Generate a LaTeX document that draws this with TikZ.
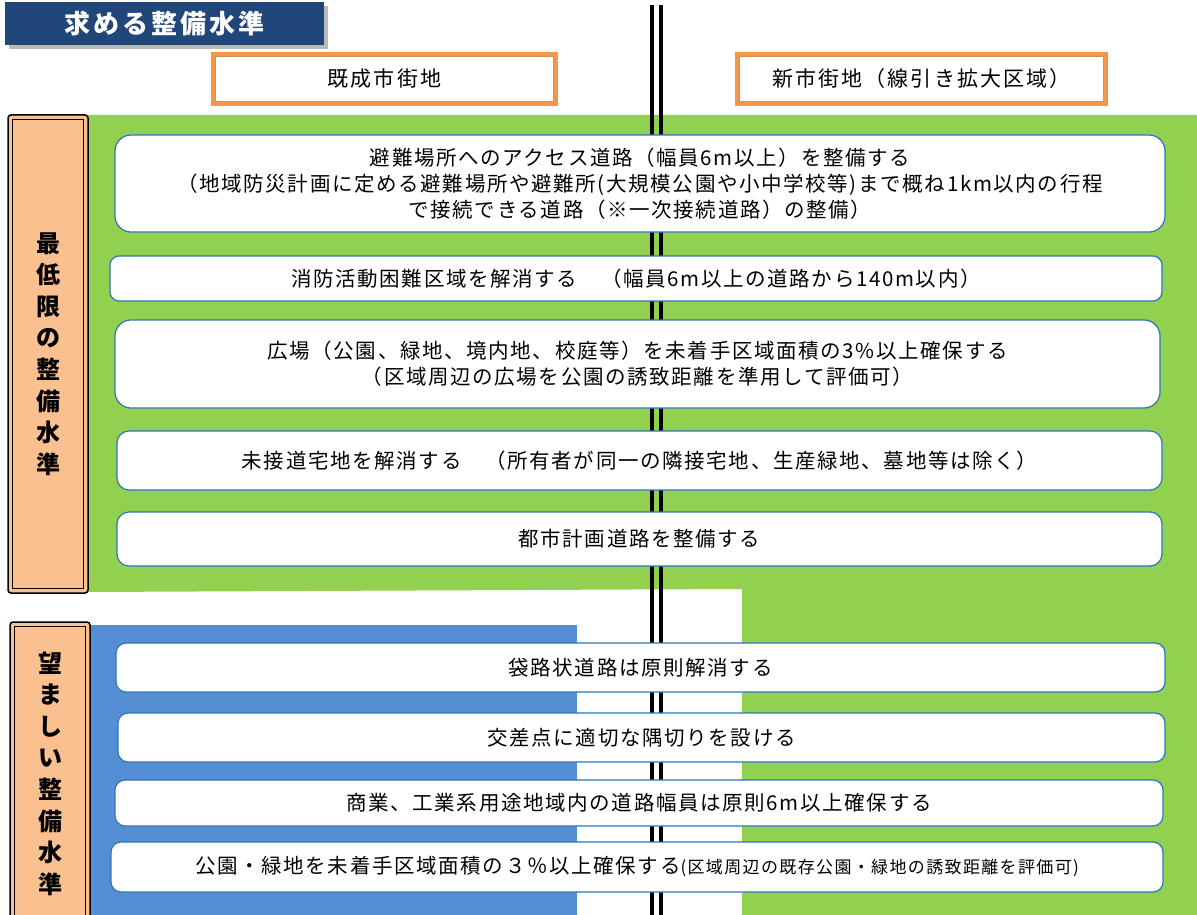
\documentclass[tikz,border=0pt]{standalone}
\usepackage{fontspec}
\setmainfont{Noto Sans CJK JP}
\definecolor{grn}{RGB}{146,208,80}
\definecolor{blu}{RGB}{85,142,213}
\definecolor{navy}{RGB}{33,71,122}
\definecolor{org}{RGB}{247,150,70}
\definecolor{peach}{RGB}{250,192,144}
\definecolor{bord}{RGB}{46,117,182}
\begin{document}
\begin{tikzpicture}[x=1pt,y=-1pt,
  wbox/.style={draw=bord,line width=1.2pt,fill=white,rounded corners=12pt,align=center,
    font=\fontsize{20.5}{26}\selectfont\addfontfeatures{LetterSpace=8},inner sep=0pt},
  hbox/.style={draw=org,line width=4.5pt,fill=white,inner sep=0pt,
    font=\fontsize{21}{24}\selectfont\addfontfeatures{LetterSpace=10}},
  lbox/.style={draw=black,line width=1.5pt,fill=peach,rounded corners=3pt,inner sep=0pt,
    align=center,font=\fontsize{24}{31.6}\selectfont\bfseries},
  tbox/.style={fill=navy,inner sep=0pt,text=white,font=\fontsize{26}{30}\selectfont\bfseries\addfontfeatures{LetterSpace=11}},
  cline/.style={line width=4pt,black}]
\useasboundingbox (0,0) rectangle (1197,915);
\fill[white] (0,0) rectangle (1197,915);
% background regions
\fill[grn] (88,115) -- (1197,115) -- (1197,915) -- (742,915) -- (742,589) -- (88,592) -- cycle;
\fill[blu] (90,625) rectangle (577,915);
% central boundary lines
\draw[cline] (652,5) -- (652,915);
\draw[cline] (661,5) -- (661,915);
% title
\fill[gray!55] (9,6) rectangle (328,49);
\node[tbox,minimum width=319pt,minimum height=43pt] (title) at (164.5,23.5) {求める整備水準};
% headers
\node[hbox,minimum width=343pt,minimum height=50pt] (h1) at (384.5,79) {既成市街地};
\node[hbox,minimum width=369pt,minimum height=50pt] (h2) at (921.5,79) {新市街地（線引き拡大区域）};
\foreach \h in {h1,h2}{
  \draw[org!70!gray,line width=1pt] ([shift={(5,5)}]\h.north west) rectangle ([shift={(-5,-5)}]\h.south east);
}
% side labels
\node[lbox,minimum width=80pt,minimum height=478pt] (l1) at (48,354) {最\\低\\限\\の\\整\\備\\水\\準};
\node[lbox,minimum width=80pt,minimum height=303pt] (l2) at (50,773.5) {望\\ま\\し\\い\\整\\備\\水\\準};
\foreach \l in {l1,l2}{
  \draw[black,line width=1.2pt] ([shift={(5,5)}]\l.north west) rectangle ([shift={(-5,-5)}]\l.south east);
}
% items
\node[wbox,rounded corners=16pt,minimum width=1050pt,minimum height=97pt] (b1) at (640,183.5)
  {避難場所へのアクセス道路（幅員6m以上）を整備する\\（地域防災計画に定める避難場所や避難所(大規模公園や小中学校等)まで概ね1km以内の行程\\で接続できる道路（※一次接続道路）の整備）};
\node[wbox,rounded corners=9pt,minimum width=1052pt,minimum height=45pt] (b2) at (636,278.5)
  {消防活動困難区域を解消する　（幅員6m以上の道路から140m以内）};
\node[wbox,rounded corners=16pt,minimum width=1045pt,minimum height=88pt] (b3) at (637.5,364)
  {広場（公園、緑地、境内地、校庭等）を未着手区域面積の3\%以上確保する\\（区域周辺の広場を公園の誘致距離を準用して評価可）};
\node[wbox,minimum width=1045pt,minimum height=59pt] (b4) at (639.5,460.5)
  {未接道宅地を解消する　（所有者が同一の隣接宅地、生産緑地、墓地等は除く）};
\node[wbox,minimum width=1045pt,minimum height=54pt] (b5) at (639.5,539)
  {都市計画道路を整備する};
\node[wbox,rounded corners=10pt,minimum width=1049pt,minimum height=49pt] (b6) at (640.5,667.5)
  {袋路状道路は原則解消する};
\node[wbox,rounded corners=10pt,minimum width=1047pt,minimum height=49pt] (b7) at (641.5,737.5)
  {交差点に適切な隅切りを設ける};
\node[wbox,rounded corners=10pt,minimum width=1048pt,minimum height=46pt] (b8) at (639,803)
  {商業、工業系用途地域内の道路幅員は原則6m以上確保する};
\node[wbox,rounded corners=10pt,minimum width=1052pt,minimum height=50pt] (b9) at (637,867)
  {公園・緑地を未着手区域面積の３％以上確保する{\fontsize{17}{20}\selectfont(区域周辺の既存公園・緑地の誘致距離を評価可)}};
\end{tikzpicture}
\end{document}
